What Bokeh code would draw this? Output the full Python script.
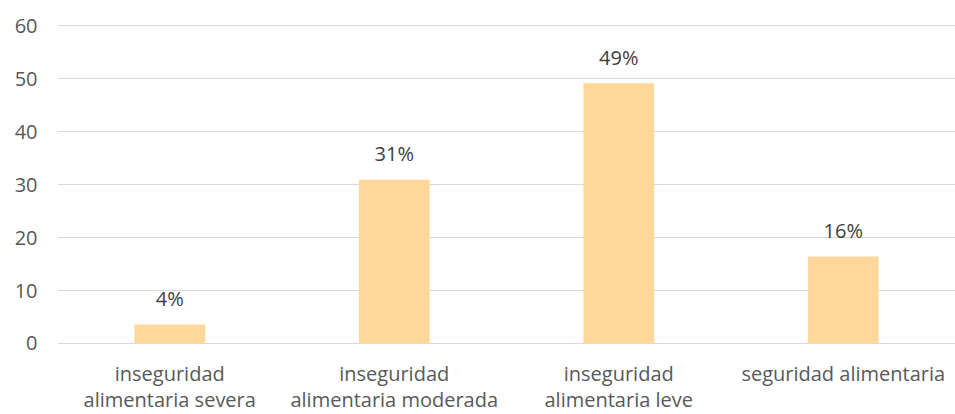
from bokeh.plotting import figure
from bokeh.models import FactorRange, Range1d, FixedTicker, ColumnDataSource
from bokeh.core.properties import value
from bokeh.embed import file_html
from bokeh.resources import INLINE

categories = ["inseguridad\nalimentaria severa", "inseguridad\nalimentaria moderada",
              "inseguridad\nalimentaria leve", "seguridad alimentaria"]
values = [3.6, 30.9, 49.1, 16.4]
labels = ["4%", "31%", "49%", "16%"]
y_ticks = [0, 10, 20, 30, 40, 50, 60]

FONT = "Open Sans"

line1 = [c.split("\n")[0] for c in categories]
line2 = [c.split("\n")[1] if "\n" in c else "" for c in categories]
base = [0 for _ in categories]

src = ColumnDataSource(dict(cat=categories, val=values, lab=labels,
                            l1=line1, l2=line2, base=base))

# y range extends below 0 so that the category labels sit inside the frame
p = figure(width=955, height=414, x_range=FactorRange(*categories, range_padding=0),
           y_range=Range1d(-13.4, 60.2), output_backend="svg", toolbar_location=None,
           min_border_left=57, min_border_right=0, min_border_top=24, min_border_bottom=0)

p.vbar(x="cat", top="val", width=0.315, source=src, color="#FFD79B", line_color=None)
p.text(x="cat", y="val", text="lab", source=src, y_offset=-26, text_align="center",
       text_baseline="alphabetic", text_font=value(FONT), text_font_size="20px",
       text_color="#404040")

for col, off in (("l1", 30), ("l2", 56)):
    p.text(x="cat", y="base", text=col, source=src, y_offset=off,
           text_align="center", text_baseline="alphabetic",
           text_font=value(FONT), text_font_size="20px", text_color="#595959")

p.outline_line_color = None
p.xgrid.grid_line_color = None
p.ygrid.grid_line_color = "#D9D9D9"
p.ygrid.grid_line_width = 1
p.yaxis.ticker = FixedTicker(ticks=y_ticks)
p.xaxis.visible = False

ax = p.yaxis[0]
ax.axis_line_color = None
ax.major_tick_line_color = None
ax.minor_tick_line_color = None
ax.major_tick_out = 0
ax.major_tick_in = 0
ax.major_label_text_font = FONT
ax.major_label_text_font_size = "20px"
ax.major_label_text_color = "#595959"
ax.major_label_standoff = 20

open("out.html", "w").write(file_html(p, INLINE))
